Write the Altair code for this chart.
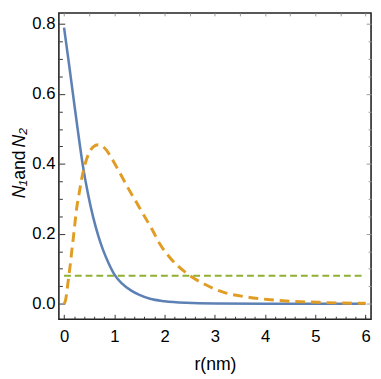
import altair as alt
import pandas as pd

# ---- data ----
r_n1 = [0.00, 0.09, 0.19, 0.27, 0.38, 0.48, 0.58, 0.68, 0.77, 0.88, 1.00, 1.15, 1.33, 1.50, 1.71, 2.00, 2.43, 3.00, 4.00, 5.00, 6.00]
n1 = [0.790, 0.695, 0.586, 0.500, 0.390, 0.312, 0.247, 0.195, 0.156, 0.118, 0.084, 0.058, 0.038, 0.025, 0.014, 0.007, 0.0025, 0.0006, 0.0, 0.0, 0.0]

r_n2 = [0.00, 0.03, 0.06, 0.10, 0.125, 0.156, 0.19, 0.25, 0.30, 0.35, 0.42, 0.50, 0.58, 0.68, 0.76, 0.84, 0.95, 1.10, 1.25, 1.42, 1.60, 1.75, 1.91, 2.10, 2.43, 2.82, 3.21, 3.60, 4.05, 4.50, 5.03, 5.50, 6.00]
n2 = [0.000, 0.010, 0.040, 0.085, 0.113, 0.154, 0.195, 0.272, 0.315, 0.357, 0.400, 0.432, 0.449, 0.455, 0.451, 0.440, 0.415, 0.377, 0.337, 0.295, 0.250, 0.213, 0.170, 0.133, 0.088, 0.054, 0.031, 0.020, 0.012, 0.007, 0.004, 0.002, 0.001]

r_const = [0.0, 6.0]
n_const = [0.08, 0.08]

x_major = [0, 1, 2, 3, 4, 5, 6]
x_minor = [0.2, 0.4, 0.6, 0.8, 1.2, 1.4, 1.6, 1.8, 2.2, 2.4, 2.6, 2.8, 3.2, 3.4, 3.6, 3.8,
           4.2, 4.4, 4.6, 4.8, 5.2, 5.4, 5.6, 5.8, 6.0]
x_top = [0, 0.5, 1, 1.5, 2, 2.5, 3, 3.5, 4, 4.5, 5, 5.5, 6]
y_major = [0.0, 0.2, 0.4, 0.6, 0.8]
y_minor = [0.05, 0.1, 0.15, 0.25, 0.3, 0.35, 0.45, 0.5, 0.55, 0.65, 0.7, 0.75]

W, H = 319, 313
FONT = "Liberation Sans"
X_DOMAIN = [-0.103, 6.11]
Y_DOMAIN = [-0.0445, 0.832]
TITLE_X = -35

df1 = pd.DataFrame({"r": r_n1, "v": n1})
df2 = pd.DataFrame({"r": r_n2, "v": n2})
df3 = pd.DataFrame({"r": r_const, "v": n_const})

xs = alt.Scale(domain=X_DOMAIN, nice=False, zero=False)
ys = alt.Scale(domain=Y_DOMAIN, nice=False, zero=False)


def tick_axis(orient, values, size, color, offset):
    return alt.Axis(orient=orient, offset=offset, values=values, tickSize=size,
                    tickColor=color, tickWidth=1, labels=False, domain=False,
                    grid=False)


def title_axis(text, ty, italic):
    return alt.Axis(orient="left", labels=False, ticks=False, domain=False, grid=False,
                    title=text, titleX=TITLE_X, titleY=ty, titleAngle=270, titleAlign="left",
                    titleBaseline="alphabetic", titleFont=FONT, titleFontSize=18,
                    titleFontWeight="normal", titleColor="#000",
                    titleFontStyle="italic" if italic else "normal")


blue = alt.Chart(df1).mark_line(color="#5E81B5", strokeWidth=2.6, interpolate="monotone").encode(
    x=alt.X("r:Q", scale=xs, axis=alt.Axis(
        orient="bottom", values=x_major, format="d", ticks=False, domain=False, grid=False,
        labelFont=FONT, labelFontSize=17, labelColor="#000", labelPadding=10, labelFlush=False,
        title="r(nm)", titleFont=FONT, titleFontSize=18, titleFontWeight="normal",
        titleColor="#000", titlePadding=11)),
    y=alt.Y("v:Q", scale=ys, axis=alt.Axis(
        orient="left", values=y_major, format=".1f", ticks=False, domain=False, grid=False,
        labelFont=FONT, labelFontSize=17, labelColor="#000", labelPadding=4,
        title="N₁", titleX=TITLE_X, titleY=189, titleAngle=270, titleAlign="left",
        titleBaseline="alphabetic", titleFont=FONT, titleFontSize=18,
        titleFontWeight="normal", titleColor="#000", titleFontStyle="italic")),
)

orange = alt.Chart(df2).mark_line(color="#E19C24", strokeWidth=3, strokeDash=[10, 6],
                                  interpolate="monotone").encode(
    x=alt.X("r:Q", scale=xs, title=None, axis=tick_axis("top", x_minor, 3, "#333", -H)),
    y=alt.Y("v:Q", scale=ys, title=None, axis=tick_axis("right", y_minor, 3.5, "#333", -W)),
)

green = alt.Chart(df3).mark_line(color="#8FB032", strokeWidth=2.2, strokeDash=[7, 4]).encode(
    x=alt.X("r:Q", scale=xs, title=None, axis=tick_axis("top", x_major, 5, "#333", -H)),
    y=alt.Y("v:Q", scale=ys, title=None, axis=tick_axis("right", y_major, 6, "#333", -W)),
)

frame_ticks1 = alt.Chart(df3).mark_line(opacity=0).encode(
    x=alt.X("r:Q", scale=xs, title=None, axis=tick_axis("bottom", x_top, 3, "#999", -H)),
    y=alt.Y("v:Q", scale=ys, title=None, axis=tick_axis("left", y_minor, 3, "#999", -W)),
)

frame_ticks2 = alt.Chart(df3).mark_line(opacity=0).encode(
    x=alt.X("r:Q", scale=xs, axis=None),
    y=alt.Y("v:Q", scale=ys, title=None, axis=tick_axis("left", y_major, 5, "#999", -W)),
)

title_and = alt.Chart(df3).mark_line(opacity=0).encode(
    x=alt.X("r:Q", scale=xs, axis=None),
    y=alt.Y("v:Q", scale=ys, axis=title_axis("and", 170, False)),
)

title_n2 = alt.Chart(df3).mark_line(opacity=0).encode(
    x=alt.X("r:Q", scale=xs, axis=None),
    y=alt.Y("v:Q", scale=ys, axis=title_axis("N₂", 137, True)),
)

chart = alt.layer(blue, orange, green, frame_ticks1, frame_ticks2, title_and, title_n2).resolve_axis(
    x="independent", y="independent"
).properties(
    width=W, height=H,
    padding={"left": 3, "top": 0, "right": 1, "bottom": 0},
    background="white",
).configure_view(stroke="#222", strokeWidth=1.6)

chart.save("out.html", embed_options={"renderer": "svg", "actions": False})
